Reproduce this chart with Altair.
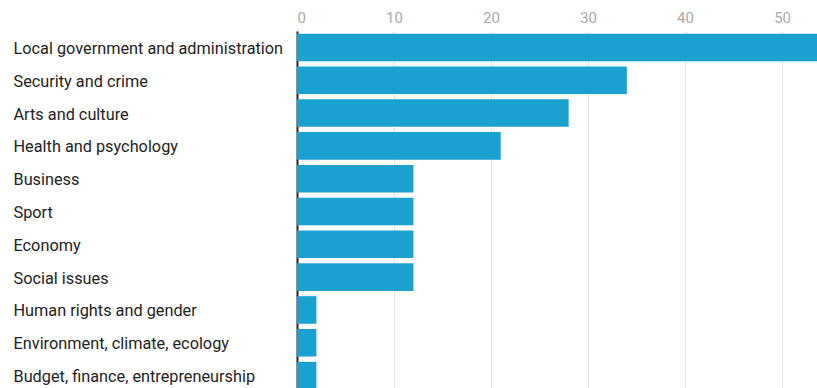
import altair as alt
import pandas as pd

categories = [
    "Local government and administration",
    "Security and crime",
    "Arts and culture",
    "Health and psychology",
    "Business",
    "Sport",
    "Economy",
    "Social issues",
    "Human rights and gender",
    "Environment, climate, ecology",
    "Budget, finance, entrepreneurship",
]
values = [56, 34, 28, 21, 12, 12, 12, 12, 2, 2, 2]

df = pd.DataFrame({"topic": categories, "count": values})

chart = alt.Chart(df).mark_bar(color="#1ba1cf", clip=True).encode(
    x=alt.X(
        "count:Q",
        scale=alt.Scale(domain=[0, 53.6], nice=False, zero=True),
        axis=alt.Axis(
            orient="top", title=None, values=[0, 10, 20, 30, 40, 50],
            domain=False, ticks=False, labelColor="#aaaaaa",
            labelFont="Roboto", labelFontSize=15, labelPadding=6,
            gridColor="#e4e4e4", gridWidth=1,
        ),
    ),
    y=alt.Y(
        "topic:N", sort=categories,
        scale=alt.Scale(range=[0, 361], paddingInner=0.16, paddingOuter=0.08),
        axis=alt.Axis(
            title=None, ticks=False, domain=True, domainColor="#222222",
            domainWidth=2, labelAlign="left", labelPadding=284,
            labelFont="Roboto", labelFontSize=16.3, labelColor="#222222",
            labelLimit=300, grid=False, labelOffset=1.5,
        ),
    ),
).properties(
    width=520, height=357,
    autosize=alt.AutoSizeParams(type="none"),
    padding={"left": 297, "top": 31, "right": 0, "bottom": 0},
).configure_view(stroke=None)

chart.save("out.html", embed_options={"renderer": "svg", "actions": False})
